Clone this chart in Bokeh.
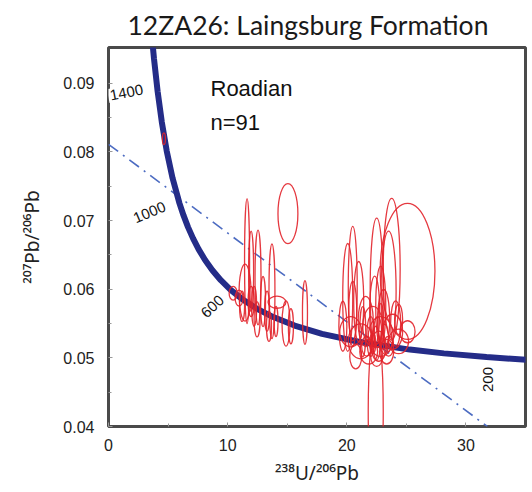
import math
from bokeh.plotting import figure
from bokeh.models import Range1d, Label, FixedTicker, PrintfTickFormatter, ColumnDataSource
from bokeh.embed import file_html
from bokeh.resources import INLINE

# ---------------- data ----------------
title_text = "12ZA26: Laingsburg Formation"
sample_text = ["Roadian", "n=91"]
x_label = "\u00b2\u00b3\u2078U/\u00b2\u2070\u2076Pb"     # 238U/206Pb
y_label = "\u00b2\u2070\u2077Pb/\u00b2\u2070\u2076Pb"    # 207Pb/206Pb

# concordia (Tera-Wasserburg) points
conc_x = [36.34, 31.73, 28.15, 25.29, 20.99, 17.92, 15.62, 13.83, 12.40, 11.23, 10.25,
          9.426, 8.718, 8.105, 7.568, 7.095, 6.674, 6.298, 5.959, 5.375, 4.888, 4.476,
          4.123, 3.817, 3.679]
conc_y = [0.04957, 0.05011, 0.05065, 0.05120, 0.05234, 0.05350, 0.05470, 0.05594, 0.05721,
          0.05854, 0.05991, 0.06131, 0.06276, 0.06425, 0.06580, 0.06740, 0.06904, 0.07074,
          0.07250, 0.07619, 0.08012, 0.08432, 0.08881, 0.09360, 0.09612]

# discordia (dash-dot line)
disc_x = [0.0, 31.8]
disc_y = [0.0811, 0.04]

# error ellipses: centre x, centre y, width, height
ell_x = [11.63, 12.55, 13.72, 16.49, 11.46, 14.14, 14.90, 15.06, 10.46, 10.96, 11.97, 12.22,
         12.97, 13.31, 11.21, 12.47, 13.47, 15.31, 11.97, 14.06,
         25.10, 23.77, 22.51, 23.51, 20.08, 20.50, 21.00, 22.43, 20.33, 21.17,
         22.18, 22.85, 23.85, 24.35, 21.59, 23.10, 22.68, 21.84, 20.75, 23.35,
         22.34, 22.85, 22.01, 22.59, 23.18, 21.34, 24.10, 19.67, 20.50, 23.51,
         21.67, 22.51, 22.85, 22.18, 24.35, 25.10, 4.65]
ell_y = [0.0641, 0.0617, 0.0597, 0.0566, 0.0595, 0.0581, 0.0550, 0.0710, 0.0594, 0.0587, 0.0582,
         0.0575, 0.0582, 0.0568, 0.0575, 0.0556, 0.0546, 0.0546, 0.0626, 0.0553,
         0.0626, 0.0629, 0.0600, 0.0597, 0.0588, 0.0604, 0.0582, 0.0422, 0.0538, 0.0524,
         0.0546, 0.0531, 0.0538, 0.0524, 0.0553, 0.0556, 0.0517, 0.0509, 0.0502, 0.0509,
         0.0568, 0.0575, 0.0531, 0.0538, 0.0527, 0.0538, 0.0550, 0.0546, 0.0568, 0.0517,
         0.0517, 0.0502, 0.0550, 0.0521, 0.0556, 0.0538, 0.0819]
ell_w = [0.42, 0.50, 0.50, 0.42, 1.00, 1.50, 0.67, 1.67, 0.67, 0.67, 0.50, 0.42, 0.42, 0.42,
         0.42, 0.50, 0.42, 0.42, 0.42, 0.33,
         4.60, 1.42, 1.09, 1.26, 0.84, 0.75, 0.84, 1.26, 1.84, 2.09,
         1.67, 2.09, 1.67, 1.67, 1.26, 1.00, 1.26, 1.50, 1.00, 1.17,
         0.84, 0.84, 0.67, 0.67, 0.67, 0.50, 0.84, 0.67, 0.67, 0.84,
         0.84, 1.00, 0.50, 0.50, 0.67, 1.26, 0.25]
ell_h = [0.0182, 0.0138, 0.0138, 0.0093, 0.0083, 0.00175, 0.0066, 0.00875, 0.0020, 0.0023,
         0.0044, 0.0058, 0.0073, 0.0058, 0.0044, 0.0051, 0.0044, 0.0051, 0.0117, 0.0044,
         0.0198, 0.0207, 0.0207, 0.0175, 0.0157, 0.0175, 0.0117, 0.0248, 0.0044, 0.0051,
         0.0058, 0.0058, 0.0051, 0.0036, 0.0073, 0.0087, 0.0044, 0.0036, 0.0036, 0.0036,
         0.0102, 0.0117, 0.0058, 0.0044, 0.0044, 0.0073, 0.0066, 0.0073, 0.0087, 0.0029,
         0.0029, 0.0029, 0.0058, 0.0029, 0.0044, 0.0032, 0.0017]

x_ticks = [0, 10, 20, 30]
x_minor = [5, 15, 25]
y_ticks = [0.04, 0.05, 0.06, 0.07, 0.08, 0.09]
y_minor = [0.045, 0.055, 0.065, 0.075, 0.085]

age_labels = ["1400", "1000", "600", "200"]

# ---------------- layout ----------------
W, H = 532, 492
FL, FR, FT, FB = 108, 525, 47, 426
X0, X1 = 0.0, 35.0
Y0, Y1 = 0.04, 0.0952


def dx(px):
    return X0 + (px - FL) * (X1 - X0) / (FR - FL)


def dy(py):
    return Y0 + (FB - py) * (Y1 - Y0) / (FB - FT)


p = figure(width=W, height=H, output_backend="svg", toolbar_location=None,
           title=title_text,
           x_range=Range1d(X0, X1), y_range=Range1d(Y0, Y1),
           min_border_left=FL, min_border_right=W - FR,
           min_border_top=FT, min_border_bottom=H - FB)
p.background_fill_color = "white"
p.border_fill_color = "white"
p.grid.visible = False
p.outline_line_color = "#4a4a4a"
p.outline_line_width = 3

p.title.align = "left"
p.title.offset = 19
p.title.text_font = "Lato"
p.title.text_font_size = "26.5px"
p.title.text_font_style = "normal"
p.title.text_color = "#1a1a1a"
p.title.standoff = 13

for ax, ticks, minor, fmt in ((p.xaxis[0], x_ticks, x_minor, "%d"),
                              (p.yaxis[0], y_ticks, y_minor, "%.2f")):
    ax.ticker = FixedTicker(ticks=ticks, minor_ticks=minor)
    ax.formatter = PrintfTickFormatter(format=fmt)
    ax.axis_line_color = None
    ax.major_tick_in = 4
    ax.major_tick_out = 0
    ax.minor_tick_in = 3
    ax.minor_tick_out = 0
    ax.major_tick_line_color = "#999999"
    ax.minor_tick_line_color = "#999999"
    ax.major_label_text_font = "Liberation Sans"
    ax.major_label_text_font_size = "16px"
    ax.major_label_text_color = "#222222"
    ax.axis_label_text_font = "Noto Sans"
    ax.axis_label_text_font_size = "19px"
    ax.axis_label_text_font_style = "normal"
    ax.axis_label_text_color = "#222222"
p.xaxis[0].major_label_standoff = 12
p.yaxis[0].major_label_standoff = 14
p.xaxis[0].axis_label = x_label
p.yaxis[0].axis_label = y_label
p.xaxis[0].axis_label_standoff = 6
p.yaxis[0].axis_label_standoff = 15

# discordia
p.line(disc_x, disc_y, line_color="#4d6cc2", line_width=1.6, line_dash="12 6 2 6")

# concordia
p.line(conc_x, conc_y, line_color="#242c88", line_width=6)

# ellipses
src = ColumnDataSource(dict(x=ell_x, y=ell_y, w=ell_w, h=ell_h))
p.ellipse(x="x", y="y", width="w", height="h", source=src, fill_color=None,
          line_color="#e2232b", line_alpha=0.9, line_width=1.3)

# age labels on concordia
age_pos = [(126, 92, 11), (149, 212, 23), (212, 306, 43), (487, 379, 90)]
for txt, (px, py, ang) in zip(age_labels, age_pos):
    lab = Label(x=dx(px), y=dy(py), text=txt, angle=math.radians(ang),
                text_align="center", text_baseline="middle",
                text_font="Liberation Sans", text_font_size="15px",
                text_color="#111111")
    if txt == "1400":
        lab.background_fill_color = "white"
        lab.padding = 2
    p.add_layout(lab)

# sample annotation
p.add_layout(Label(x=dx(210), y=dy(88), text=sample_text[0], text_font="Liberation Sans",
                   text_font_size="22px", text_color="#111111", text_baseline="alphabetic"))
p.add_layout(Label(x=dx(210), y=dy(122), text=sample_text[1], text_font="Liberation Sans",
                   text_font_size="22px", text_color="#111111", text_baseline="alphabetic"))

open("out.html", "w").write(file_html(p, INLINE))
